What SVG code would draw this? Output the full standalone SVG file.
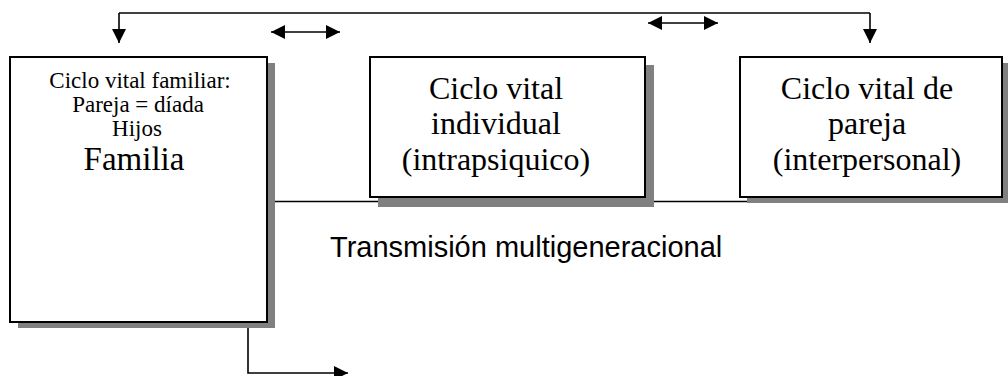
<svg xmlns="http://www.w3.org/2000/svg" width="1008" height="376" viewBox="0 0 1008 376">
<style>
.box{fill:#fff;stroke:#000;stroke-width:2}
.sh{fill:#808080}
.ln{fill:none;stroke:#000;stroke-width:1.6}
.t{font-family:"Liberation Serif","Times New Roman",serif;fill:#000;text-anchor:middle}
.s{font-size:23px}
.b{font-size:32px}
.a{font-family:"Liberation Sans",Arial,sans-serif;fill:#000;font-size:29px}
</style>
<defs>
<marker id="ahb" viewBox="0 0 10 10" refX="10" refY="5" markerWidth="15" markerHeight="14" orient="auto-start-reverse" markerUnits="userSpaceOnUse">
<path d="M0,0 L10,5 L0,10 Z" fill="#000"/>
</marker>
</defs>
<g id="connectors">
<path class="ln" d="M119,13 H870"/>
<path class="ln" d="M119,13 V43" marker-end="url(#ahb)"/>
<path class="ln" d="M870,13 V43" marker-end="url(#ahb)"/>
<path class="ln" d="M271,32 H340" marker-start="url(#ahb)" marker-end="url(#ahb)"/>
<path class="ln" d="M648,23 H718" marker-start="url(#ahb)" marker-end="url(#ahb)"/>
<path class="ln" d="M275,201.5 H870"/>
<path class="ln" d="M248,323 V373 H348" marker-end="url(#ahb)"/>
</g>
<g id="familia">
<rect class="sh" x="18" y="63" width="257" height="265"/>
<rect class="box" x="10" y="57" width="257" height="265"/>
<text class="t s" x="140" y="88">Ciclo vital familiar:</text>
<text class="t s" x="138" y="112">Pareja = díada</text>
<text class="t s" x="137" y="136">Hijos</text>
<text class="t" x="134" y="170" font-size="33">Familia</text>
</g>
<g id="individual">
<rect class="sh" x="378" y="65" width="276" height="142"/>
<rect class="box" x="370" y="57" width="275" height="140"/>
<text class="t b" x="496" y="99">Ciclo vital</text>
<text class="t b" x="496" y="134">individual</text>
<text class="t b" x="496" y="170">(intrapsiquico)</text>
</g>
<g id="pareja">
<rect class="sh" x="747" y="63" width="261" height="140"/>
<rect class="box" x="740" y="57" width="262" height="140"/>
<text class="t b" x="867" y="99">Ciclo vital de</text>
<text class="t b" x="867" y="134">pareja</text>
<text class="t b" x="867" y="170">(interpersonal)</text>
</g>
<g id="transmision">
<text class="a" x="330" y="257">Transmisión multigeneracional</text>
</g>
</svg>
